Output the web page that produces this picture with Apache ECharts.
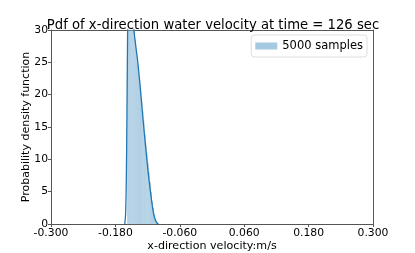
<!DOCTYPE html>
<html><head><meta charset="utf-8">
<script src="https://cdn.jsdelivr.net/npm/echarts@6/dist/echarts.min.js"></script>
<style>html,body{margin:0;padding:0;background:#fff}#c{width:415px;height:253px}</style>
</head><body><div id="c"></div>
<script>
// Histogram bins (left edges, width binWidth) and density heights
var binWidth = 0.002;
var binStarts = [-0.158,-0.156,-0.154,-0.152,-0.150,-0.148,-0.146,-0.144,-0.142,-0.140,-0.138,-0.136,-0.134,-0.132,-0.130,-0.128,-0.126,-0.124,-0.122,-0.120,-0.118,-0.116,-0.114,-0.112,-0.110,-0.108,-0.106,-0.104];
var binDensity = [30,42,48,44,38,33,30,28.5,27,25,23.5,22,20.5,19,17.5,16,14,12.5,11,9.5,8,6.5,5,3.5,2.5,1.5,0.8,0.3];
// KDE curve
var kdeX = [-0.1625,-0.1610,-0.1600,-0.1590,-0.1580,-0.1570,-0.1560,-0.1540,-0.1520,-0.1500,-0.1480,-0.1455,-0.1420,-0.1380,-0.1330,-0.1285,-0.1240,-0.1195,-0.1150,-0.1110,-0.1080,-0.1050,-0.1025,-0.1000];
var kdeY = [0,1.5,5,12,22,32,40,46,44,39,34,30,27.5,24.8,20.5,16.2,12.2,8.4,5.2,2.7,1.3,0.5,0.15,0];
var xTicks = [-0.300,-0.180,-0.060,0.060,0.180,0.300];
var yTicks = [0,5,10,15,20,25,30];

var chart = echarts.init(document.getElementById('c'));
var fnt = 'DejaVu Sans';
var histData = binStarts.map(function(s,i){return [s, s+binWidth, binDensity[i]];});
var kdeData = kdeX.map(function(x,i){return [x,kdeY[i]];});
var axisLineStyle = {color:'#555', width:1};
chart.setOption({
  animation:false,
  title:{text:'Pdf of x-direction water velocity at time = 126 sec', left:208, top:14, textAlign:'center',
    textStyle:{fontFamily:fnt, fontSize:13.2, fontWeight:'normal', color:'#000'}},
  legend:{right:48, top:35, data:[{name:'5000 samples', icon:'rect'}], itemWidth:22, itemHeight:7, itemGap:6,
    borderColor:'#ddd', borderWidth:1, borderRadius:3, padding:[5,4,5,4],
    textStyle:{fontFamily:fnt, fontSize:11.5, color:'#000'}},
  grid:{left:51, right:42, top:30, bottom:29, outerBoundsMode:'none', containLabel:false},
  xAxis:[{type:'value', min:xTicks[0], max:xTicks[xTicks.length-1], interval:0.12,
    name:'x-direction velocity:m/s', nameLocation:'middle', nameGap:17, nameMoveOverlap:false,
    nameTextStyle:{fontFamily:fnt, fontSize:11.1, color:'#000'},
    axisLine:{show:true, onZero:false, lineStyle:axisLineStyle}, axisTick:{show:true, length:3, lineStyle:axisLineStyle},
    splitLine:{show:false},
    axisLabel:{fontFamily:fnt, fontSize:10.8, color:'#000', margin:4, showMinLabel:true, showMaxLabel:true,
      formatter:function(v){return v.toFixed(3);}}},
    {type:'value', position:'top', min:-0.3, max:0.3, axisLine:{show:true, onZero:false, lineStyle:axisLineStyle}, axisTick:{show:false}, axisLabel:{show:false}, splitLine:{show:false}}],
  yAxis:[{type:'value', min:yTicks[0], max:yTicks[yTicks.length-1], interval:5,
    name:'Probability density function', nameLocation:'middle', nameGap:19, nameMoveOverlap:false,
    nameTextStyle:{fontFamily:fnt, fontSize:11, color:'#000'},
    axisLine:{show:true, onZero:false, lineStyle:axisLineStyle}, axisTick:{show:true, length:3, lineStyle:axisLineStyle},
    splitLine:{show:false},
    axisLabel:{fontFamily:fnt, fontSize:10.8, color:'#000', margin:3}},
    {type:'value', position:'right', min:0, max:30, axisLine:{show:true, onZero:false, lineStyle:axisLineStyle}, axisTick:{show:false}, axisLabel:{show:false}, splitLine:{show:false}}],
  series:[
    {name:'5000 samples', type:'custom', xAxisIndex:0, yAxisIndex:0, data:histData,
     itemStyle:{color:'rgba(31,119,180,0.4)'},
     encode:{x:[0,1], y:2},
     renderItem:function(params, api){
       var p0 = api.coord([api.value(0), api.value(2)]);
       var p1 = api.coord([api.value(1), 0]);
       var cs = params.coordSys;
       var shape = echarts.graphic.clipRectByRect({x:p0[0], y:p0[1], width:p1[0]-p0[0], height:p1[1]-p0[1]},
         {x:cs.x, y:cs.y, width:cs.width, height:cs.height});
       return shape && {type:'rect', shape:shape, style:{fill:'rgba(31,119,180,0.4)', stroke:'rgba(255,255,255,0.25)', lineWidth:0.4}};
     }},
    {name:'kde', type:'line', xAxisIndex:0, yAxisIndex:0, data:kdeData, smooth:0.3, showSymbol:false, clip:true,
     lineStyle:{color:'#1f77b4', width:1.3}, itemStyle:{color:'#1f77b4'}}
  ]
});
</script></body></html>
